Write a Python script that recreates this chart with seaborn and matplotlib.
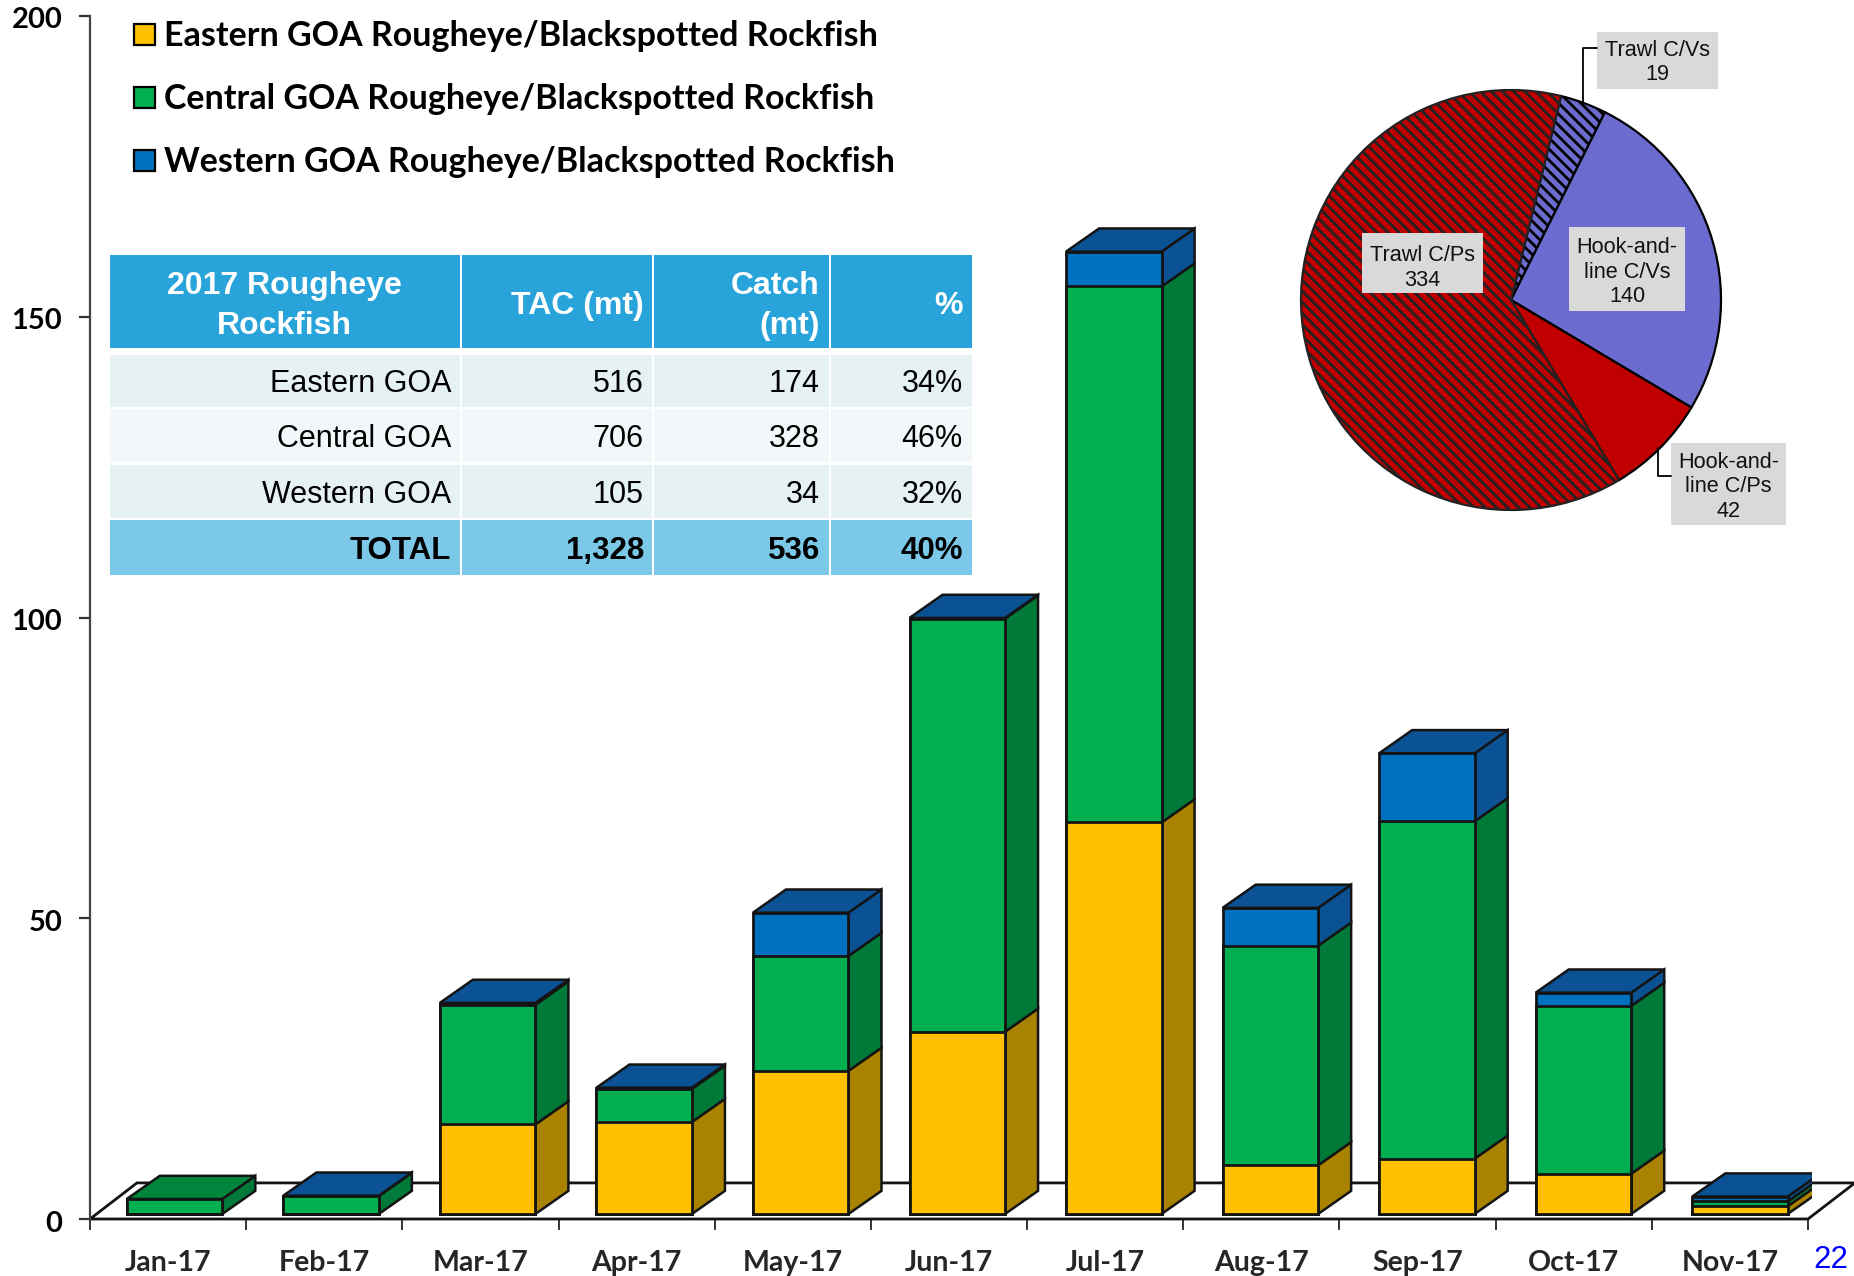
import matplotlib
matplotlib.use("Agg")
import matplotlib.pyplot as plt
from matplotlib.patches import Rectangle
from matplotlib.transforms import ScaledTranslation
import numpy as np
import seaborn as sns

months = ["Jan-17", "Feb-17", "Mar-17", "Apr-17", "May-17", "Jun-17", "Jul-17", "Aug-17", "Sep-17", "Oct-17", "Nov-17"]
eastern = [0, 0, 14.9, 15.3, 23.8, 30.3, 65.1, 8.1, 9.2, 6.7, 1.3]
central = [2.5, 3.0, 19.9, 5.5, 19.1, 68.7, 89.1, 36.5, 56.1, 27.9, 0.8]
western = [0, 0.05, 0.3, 0.2, 7.2, 0.1, 5.8, 6.3, 11.3, 2.2, 0.8]
series_names = ["Eastern GOA Rougheye/Blackspotted Rockfish",
                "Central GOA Rougheye/Blackspotted Rockfish",
                "Western GOA Rougheye/Blackspotted Rockfish"]
yticks = [0, 50, 100, 150, 200]

pie_labels = ["Trawl C/Vs\n19", "Hook-and-\nline C/Vs\n140", "Hook-and-\nline C/Ps\n42", "Trawl C/Ps\n334"]
pie_values = [19, 140, 42, 334]

table_header = ["2017 Rougheye\nRockfish", "TAC (mt)", "Catch\n(mt)", "%"]
table_regions = ["Eastern GOA", "Central GOA", "Western GOA", "TOTAL"]
table_tac = ["516", "706", "105", "1,328"]
table_catch = ["174", "328", "34", "536"]
table_pct = ["34%", "46%", "32%", "40%"]

W, H = 1854, 1276
YELLOW, GREEN, BLUE = "#FFC000", "#00B050", "#0070C0"
YELLOW_D, GREEN_D, BLUE_D = "#A98200", "#007A38", "#0B5295"
LINE = "#141414"

sns.set_theme(style="white")
plt.rcParams["font.family"] = ["Lato", "DejaVu Sans"]
plt.rcParams["hatch.linewidth"] = 2.0

fig = plt.figure(figsize=(W / 100, H / 100), dpi=100, facecolor="white")
# bars step a little wider than the axis ticks in the original
ax = fig.add_axes([90 / W, (H - 1219) / H, 1722 / W, 1203 / H])


def fx(x):
    return x / W


def fy(y):
    return 1 - y / H


def box(x0, y0, x1, y1, color, **kw):
    fig.add_artist(Rectangle((fx(x0), fy(y1)), (x1 - x0) / W, (y1 - y0) / H,
                             transform=fig.transFigure, facecolor=color, edgecolor=kw.pop("ec", "none"), **kw))


def label(x, y, s, **kw):
    kw.setdefault("family", ["Liberation Sans"])
    kw.setdefault("va", "center")
    fig.text(fx(x), fy(y), s, **kw)


east = np.array(eastern)
cent = east + np.array(central)
west = cent + np.array(western)

bar_w = 0.61
lift = 0.83      # bars sit slightly above the zero line
dx, dy = 0.211, 3.85
tick_step = 1718 / 1722

# floor of the 3d chart
x0, x1 = -0.54, 10.46
floor_r = x0 + 11 * tick_step
ax.fill([x0, floor_r, floor_r + 0.30, x0 + 0.30], [0, 0, 6, 6], facecolor="white", edgecolor=LINE,
        linewidth=2, clip_on=False, zorder=1)

# cumulative bars, tallest first so the smaller ones sit on top
for vals, col in [(west, BLUE), (cent, GREEN), (east, YELLOW)]:
    sns.barplot(x=months, y=vals, color=col, saturation=1, width=bar_w, bottom=lift, order=months,
                edgecolor=LINE, linewidth=2, ax=ax, zorder=3)

# side and top faces
for i in range(len(months)):
    xr = i + bar_w / 2
    xl = i - bar_w / 2
    levels = [0, east[i], cent[i], west[i]]
    for j, col in enumerate([YELLOW_D, GREEN_D, BLUE_D]):
        b, t = levels[j] + lift, levels[j + 1] + lift
        if t > b:
            ax.fill([xr, xr + dx, xr + dx, xr], [b, b + dy, t + dy, t], facecolor=col, edgecolor=LINE,
                    linewidth=1.8, zorder=2.5)
    t = west[i] + lift
    top_col = BLUE_D if western[i] > 0 else "#00863C"
    ax.fill([xl, xr, xr + dx, xl + dx], [t, t, t + dy, t + dy], facecolor=top_col, edgecolor=LINE,
            linewidth=1.8, zorder=2.5)

ax.set_xlim(x0, x1)
ax.set_ylim(0, 200)
ax.set_yticks(yticks)
ax.set_yticklabels([str(v) for v in yticks], fontsize=21, fontweight="bold", color="black")
ax.set_xticks(x0 + np.arange(12) * tick_step)
ax.set_xticklabels([])
ax.set_xticks(x0 + (np.arange(len(months)) + 0.5) * tick_step, labels=months, minor=True)
ax.tick_params(axis="x", which="major", length=8, width=1.4, color="#333333", bottom=True)
ax.tick_params(axis="x", which="minor", length=0, labelsize=20.5, pad=22, bottom=False)
for t in ax.get_xticklabels(minor=True):
    t.set_fontweight("bold")
ax.tick_params(axis="y", length=8, width=1.6, color="#333333", left=True, pad=12)
shift = ScaledTranslation(0, -2 / 100, fig.dpi_scale_trans)
for t in ax.get_yticklabels():
    t.set_transform(t.get_transform() + shift)
ax.set_xlabel("")
ax.set_ylabel("")
ax.patch.set_alpha(0)
sns.despine(ax=ax, bottom=True)
ax.spines["left"].set_color("#444444")
ax.spines["left"].set_linewidth(1.6)

# legend
for name, col, y in zip(series_names, [YELLOW, GREEN, BLUE], [34, 97, 160]):
    box(134, y - 10, 155, y + 11, col, ec="black", linewidth=1.6)
    label(164, y + 2, name, family=["Lato"], fontsize=24.5, fontweight="bold", color="black")

# table
cols = [(110, 460), (462, 652), (654, 829), (831, 972)]
rows = [(355, 407), (409, 462), (465, 518), (520, 575)]
row_cols = ["#E6F1F3", "#F2F8FA", "#E6F1F3", "#7BC8E8"]
rights = [451, 644, 820, 963]
for (c0, c1), head, r in zip(cols, table_header, rights):
    box(c0, 255, c1, 348, "#28A4DA")
    if r == rights[0]:
        label(284, 306, head, color="white", fontsize=23, fontweight="bold", ha="center", linespacing=1.4)
    else:
        label(r, 306, head, color="white", fontsize=23, fontweight="bold", ha="right", linespacing=1.4, multialignment="right")
for k, (y0, y1) in enumerate(rows):
    for (c0, c1) in cols:
        box(c0, y0, c1, y1, row_cols[k])
    weight = "bold" if k == 3 else "normal"
    size = 22.5 if k == 3 else 22
    cells = [table_regions[k], table_tac[k], table_catch[k], table_pct[k]]
    for s, r in zip(cells, rights):
        label(r, (y0 + y1) / 2 + 3, s, color="black", fontsize=size, fontweight=weight, ha="right")

# pie inset
pie_cx, pie_cy, pie_r = 1511, 300, 210
pax = fig.add_axes([fx(pie_cx - pie_r), fy(pie_cy + pie_r), 2 * pie_r / W, 2 * pie_r / H])
wedges, _ = pax.pie(pie_values, startangle=76.2, counterclock=False, radius=1,
                    colors=["#6B6BD0", "#6B6BD0", "#C00000", "#C00000"],
                    wedgeprops=dict(edgecolor="black", linewidth=1.6, clip_on=False))
wedges[0].set_hatch("\\\\\\")
wedges[3].set_hatch("\\\\\\")
wedges[3].set_edgecolor("#222222")
pax.set_xlim(-1, 1)
pax.set_ylim(-1, 1)
pax.patch.set_alpha(0)

# leader lines
fig.add_artist(plt.Line2D([fx(1597), fx(1583), fx(1583)], [fy(48), fy(48), fy(104)], color="black", linewidth=1.3))
fig.add_artist(plt.Line2D([fx(1658), fx(1658), fx(1671)], [fy(448), fy(476), fy(476)], color="black", linewidth=1.3))

pie_boxes = [(1597, 32, 1718, 89), (1569, 227, 1685, 311), (1671, 443, 1786, 525), (1362, 233, 1483, 293)]
pie_text_off = [2, 3, 3, 5]
for s, (a, b, c, d), off in zip(pie_labels, pie_boxes, pie_text_off):
    box(a, b, c, d, "#D9D9D9")
    label((a + c) / 2, (b + d) / 2 + off, s, color="#111111", fontsize=15.6, ha="center", linespacing=1.22)

# slide number
label(1831, 1268, "22", color="#0000FF", fontsize=22.5, ha="center", va="baseline")

fig.savefig("out.png", dpi=100)
